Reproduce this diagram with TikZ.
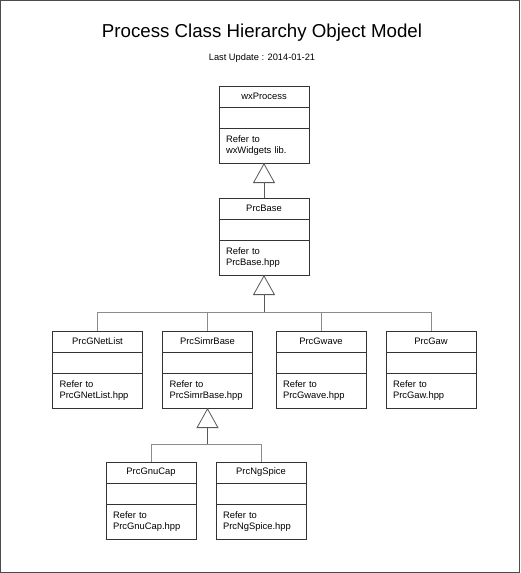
\documentclass[tikz,border=0pt]{standalone}
\usepackage{fontspec}
\setmainfont{Liberation Sans}
\usetikzlibrary{calc,positioning,arrows.meta}

% one UML class: name, position of top centre, title, body text
\newcommand{\umlclass}[4]{%
  \node [class title] (#1) at (#2) {#3};
  \node [class slot, below=0pt of #1] (#1 slot) {};
  \node [class body, below=0pt of #1 slot] (#1 body) {#4};
}

\begin{document}
\begin{tikzpicture}[
  x=1pt, y=-1pt,
  font=\fontsize{9.4}{11.6}\selectfont,
  class title/.style={
    rectangle,
    fill=white,
    draw=black!80,
    line width=0.8pt,
    anchor=north,
    minimum height=21pt, minimum width=90pt,
    inner sep=0pt,
    outer sep=0pt
  },
  class slot/.style={
    rectangle,
    fill=white,
    draw=black!80,
    line width=0.8pt,
    minimum height=21pt, minimum width=90pt,
    inner sep=0pt,
    outer sep=0pt
  },
  class body/.style={
    rectangle,
    fill=white,
    draw=black!80,
    line width=0.8pt,
    minimum height=35pt, minimum width=90pt,
    text width=76pt,
    inner xsep=7pt, inner ysep=0pt,
    align=left,
    outer sep=0pt
  },
  generalize/.style={
    draw=black!65,
    line width=0.8pt,
    -{Triangle[open, length=20pt, width=22pt, fill=white]}
  },
  branch/.style={
    draw=black!45,
    line width=0.8pt
  },
  frame/.style={
    draw=black!70,
    line width=1pt
  }
  ]
\useasboundingbox (0,0) rectangle (521,573);
\draw [frame] (0.5,0.5) rectangle (519.5,572.3);
% Titles
\node (title) at (262,33) {\fontsize{18.7}{22}\selectfont Process Class Hierarchy Object Model};
\node (update) at (262,58) {\fontsize{9.3}{11}\selectfont Last Update : 2014-01-21};
% Classes
\umlclass{wxProcess}{264,86}{wxProcess}{Refer to\\wxWidgets lib.}
\umlclass{PrcBase}{264,198}{PrcBase}{Refer to\\PrcBase.hpp}
\umlclass{PrcGNetList}{97.5,331}{PrcGNetList}{Refer to\\PrcGNetList.hpp}
\umlclass{PrcSimrBase}{207.5,331}{PrcSimrBase}{Refer to\\PrcSimrBase.hpp}
\umlclass{PrcGwave}{321,331}{PrcGwave}{Refer to\\PrcGwave.hpp}
\umlclass{PrcGaw}{431,331}{PrcGaw}{Refer to\\PrcGaw.hpp}
\umlclass{PrcGnuCap}{151,462}{PrcGnuCap}{Refer to\\PrcGnuCap.hpp}
\umlclass{PrcNgSpice}{261,462}{PrcNgSpice}{Refer to\\PrcNgSpice.hpp}
% wxProcess <- PrcBase
\draw [generalize] (PrcBase.north) -- (wxProcess body.south);
% PrcBase <- children
\coordinate (base bus) at ($(PrcBase body.south) + (0,37)$);
\draw [generalize] (base bus) -- (PrcBase body.south);
\foreach \child in {PrcGNetList, PrcSimrBase, PrcGwave, PrcGaw}
  \draw [branch] (\child.north) |- (base bus);
% PrcSimrBase <- children
\coordinate (simr bus) at ($(PrcSimrBase body.south) + (0,36)$);
\draw [generalize] (simr bus) -- (PrcSimrBase body.south);
\foreach \child in {PrcGnuCap, PrcNgSpice}
  \draw [branch] (\child.north) |- (simr bus);
\end{tikzpicture}
\end{document}
